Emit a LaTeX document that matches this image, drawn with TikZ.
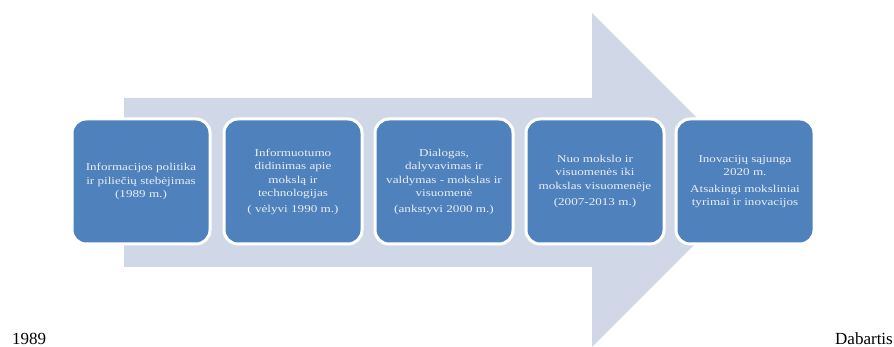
\documentclass[tikz,border=0pt]{standalone}
\usepackage{fontspec}
\setmainfont{Liberation Serif}
\newfontfamily\boxfont[FakeStretch=1.25]{Liberation Serif}
\definecolor{arrowfill}{HTML}{D0D8E8}
\definecolor{boxblue}{HTML}{4F81BD}
\definecolor{boxtext}{HTML}{E9EEF6}
\begin{document}
\begin{tikzpicture}[x=1pt,y=-1pt,
  stagebox/.style={draw=white, line width=3pt, fill=boxblue, rounded corners=14pt,
    minimum width=138pt, minimum height=125pt, inner sep=2pt, align=center,
    text=boxtext, font=\boxfont\fontsize{10.5}{13.5}\selectfont},
  endlabel/.style={inner sep=0pt, font=\fontsize{17}{20}\selectfont, text=black}]
\useasboundingbox (0,0) rectangle (894,347);
\fill[arrowfill] (124,98) -- (592,98) -- (592,13) -- (759,180) -- (592,347) -- (592,267) -- (124,267) -- cycle;
\node[stagebox] (s1) at (141,181.5) {Informacijos politika\\ir piliečių stebėjimas\\(1989 m.)};
\node[stagebox] (s2) at (293,181.5) {Informuotumo\\didinimas apie\\mokslą ir\\technologijas\\[2pt]( vėlyvi 1990 m.)};
\node[stagebox] (s3) at (444,181.5) {Dialogas,\\dalyvavimas ir\\valdymas - mokslas ir\\visuomenė\\[2pt](ankstyvi 2000 m.)};
\node[stagebox] (s4) at (595,181.5) {Nuo mokslo ir\\visuomenės iki\\mokslas visuomenėje\\[3pt](2007-2013 m.)};
\node[stagebox] (s5) at (745,181.5) {Inovacijų sąjunga\\2020 m.\\[3pt]Atsakingi moksliniai\\tyrimai ir inovacijos};
\node[endlabel, anchor=base west] (start) at (12,344) {1989};
\node[endlabel, anchor=base east] (now) at (893,344) {Dabartis};
\end{tikzpicture}
\end{document}
